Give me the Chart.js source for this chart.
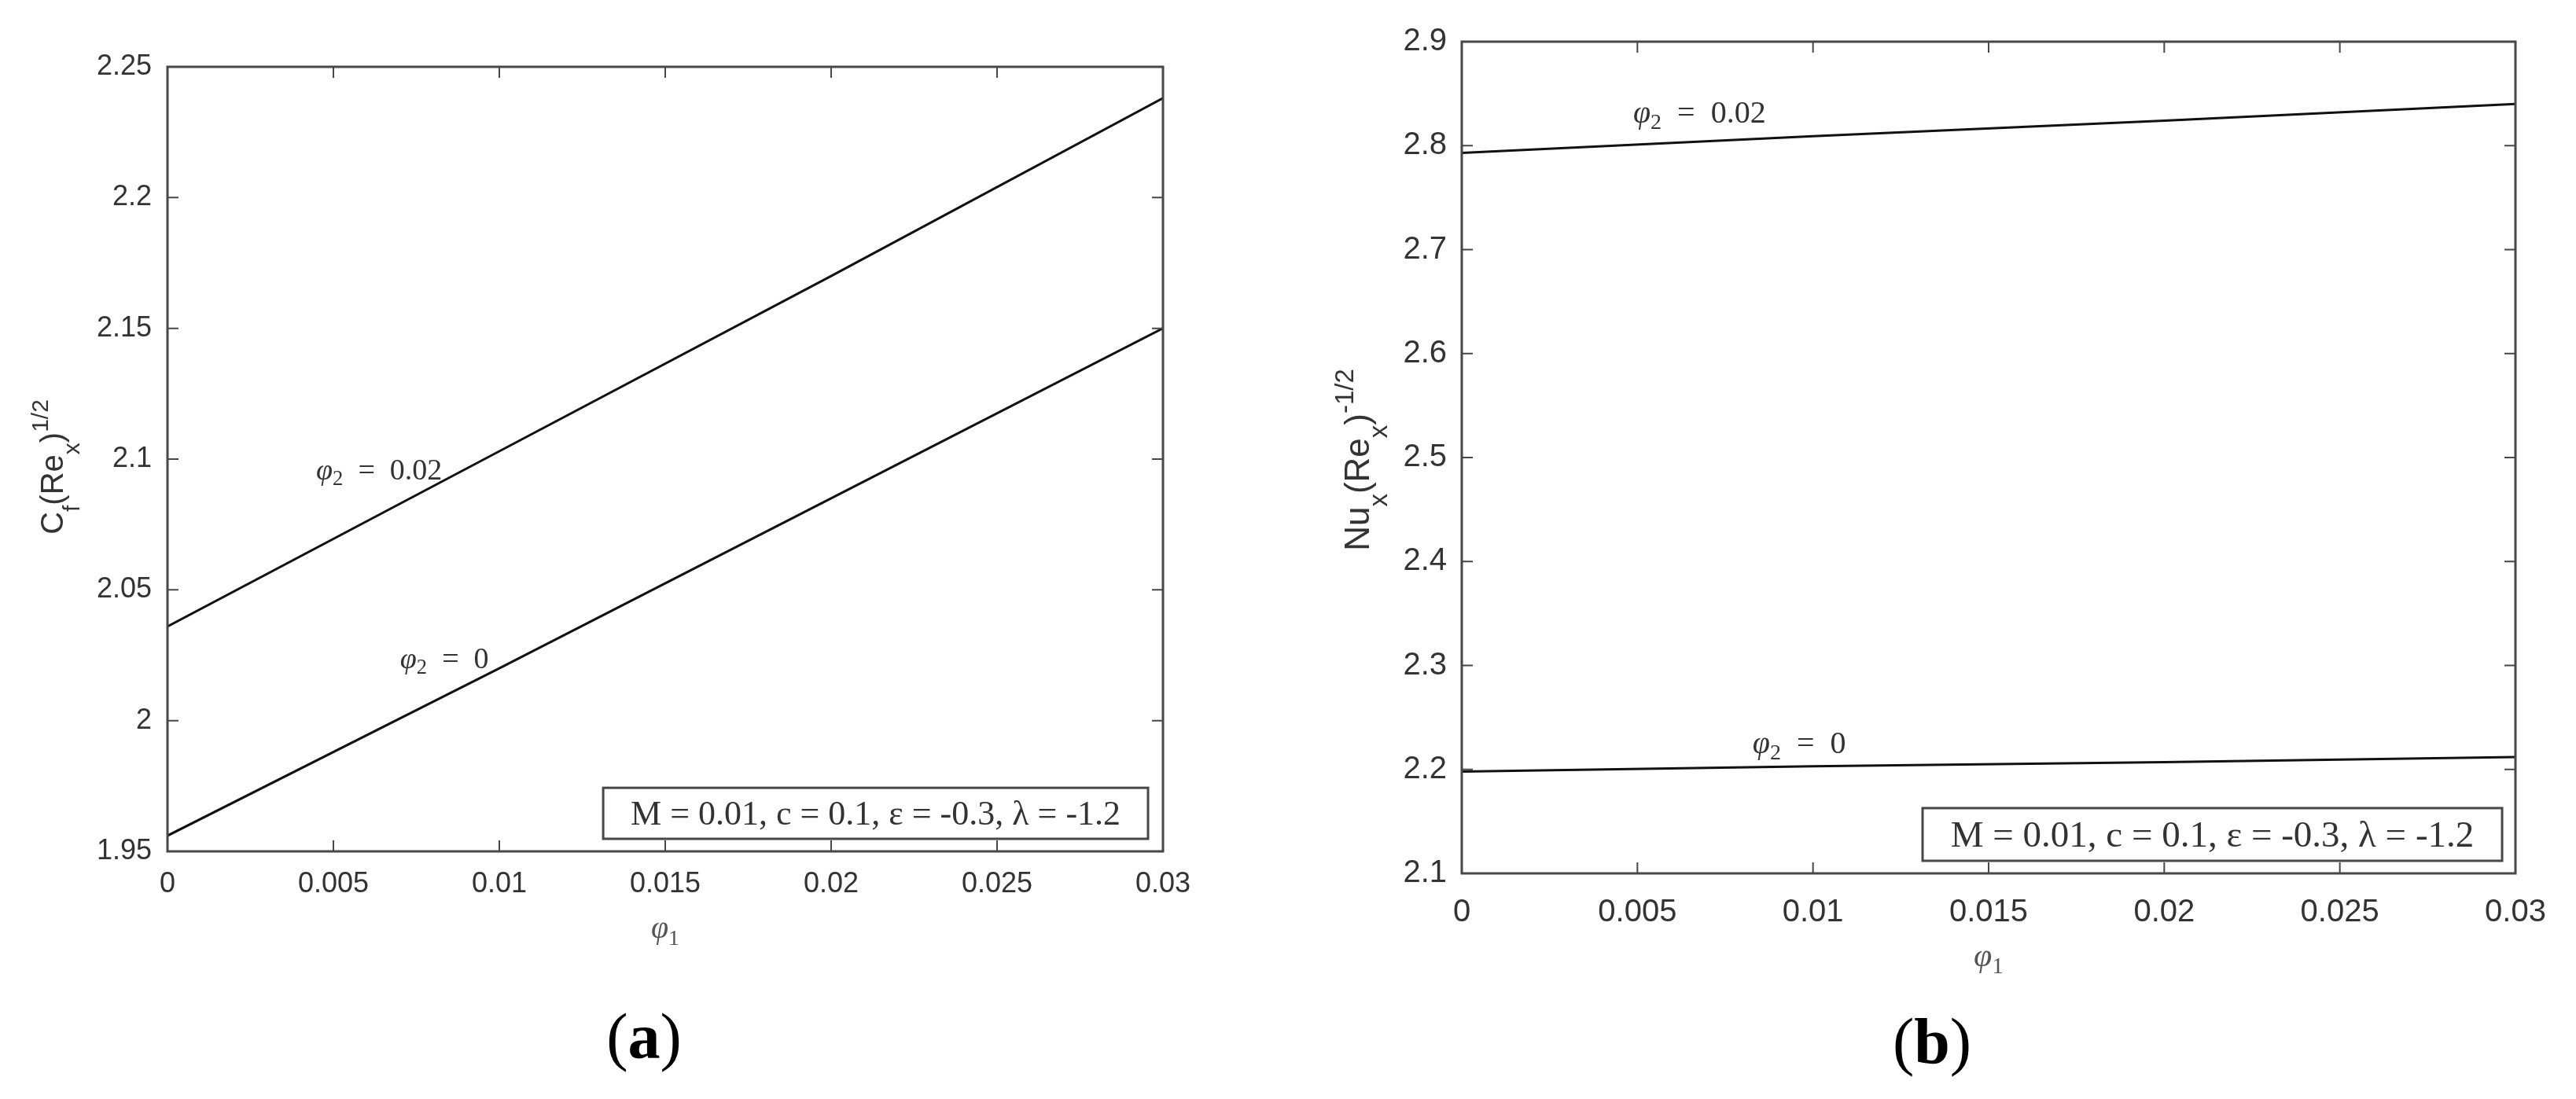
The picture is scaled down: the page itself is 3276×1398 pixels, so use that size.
<!DOCTYPE html>
<html>
<head>
<meta charset="utf-8">
<script src="https://cdn.jsdelivr.net/npm/chart.js@4.4.1/dist/chart.umd.min.js"></script>
<style>
  html, body { margin: 0; padding: 0; background: #fff; }
  #wrap { position: relative; width: 3276px; height: 1398px; }
  canvas { position: absolute; top: 0; }
  #chartA { left: 0; }
  #chartB { left: 1638px; }
</style>
</head>
<body>
<div id="wrap">
  <canvas id="chartA" width="1638" height="1398"></canvas>
  <canvas id="chartB" width="1638" height="1398"></canvas>
</div>
<script>
"use strict";

const phi1 = [0, 0.01, 0.02, 0.03];

// (a) skin friction C_f(Re_x)^{1/2}
const cfPhi2Zero = [1.956, 2.020, 2.085, 2.150];
const cfPhi2Two = [2.036, 2.103, 2.170, 2.238];

// (b) Nusselt number Nu_x(Re_x)^{-1/2}
const nuPhi2Zero = [2.198, 2.203, 2.207, 2.212];
const nuPhi2Two = [2.793, 2.809, 2.824, 2.840];

const xTicks = [0, 0.005, 0.01, 0.015, 0.02, 0.025, 0.03];
const xTickLabels = ["0", "0.005", "0.01", "0.015", "0.02", "0.025", "0.03"];
const cfTicks = [1.95, 2, 2.05, 2.1, 2.15, 2.2, 2.25];
const cfTickLabels = ["1.95", "2", "2.05", "2.1", "2.15", "2.2", "2.25"];
const nuTicks = [2.1, 2.2, 2.3, 2.4, 2.5, 2.6, 2.7, 2.8, 2.9];
const nuTickLabels = ["2.1", "2.2", "2.3", "2.4", "2.5", "2.6", "2.7", "2.8", "2.9"];

const curveNames = ["0", "0.02"];
const paramText = "M = 0.01, c = 0.1, \u03b5 = -0.3, \u03bb = -1.2";

const SANS = '"Liberation Sans", Arial, sans-serif';
const SERIF = '"Liberation Serif", "Times New Roman", serif';
const AXIS = "#474747";
const TEXT = "#333";
const TICK = 14;

const pts = (ys) => phi1.map((x, i) => ({ x, y: ys[i] }));

// draws a run of [text, size, shift, style] pieces, left to right from x0
function drawRun(ctx, pieces, x0, y0) {
  let x = x0;
  pieces.forEach(([t, size, shift, style]) => {
    ctx.font = `${style || ""} ${size}px ${style && style.includes("S") ? SANS : SERIF}`.replace("S", "");
    ctx.fillText(t, x, y0 + shift);
    x += ctx.measureText(t).width;
  });
  return x - x0;
}
function runWidth(ctx, pieces) {
  let w = 0;
  pieces.forEach(([t, size, shift, style]) => {
    ctx.font = `${style || ""} ${size}px ${style && style.includes("S") ? SANS : SERIF}`.replace("S", "");
    w += ctx.measureText(t).width;
  });
  return w;
}

const decor = {
  id: "decor",
  afterDatasetsDraw(chart, args, o) {
    const { ctx, chartArea: a, scales: { x, y } } = chart;
    ctx.save();

    // inward ticks on all four sides
    ctx.strokeStyle = AXIS;
    ctx.lineWidth = 2;
    ctx.beginPath();
    x.ticks.forEach((t) => {
      const px = x.getPixelForValue(t.value);
      ctx.moveTo(px, a.bottom); ctx.lineTo(px, a.bottom - TICK);
      ctx.moveTo(px, a.top); ctx.lineTo(px, a.top + TICK);
    });
    y.ticks.forEach((t) => {
      const py = y.getPixelForValue(t.value);
      ctx.moveTo(a.left, py); ctx.lineTo(a.left + TICK, py);
      ctx.moveTo(a.right, py); ctx.lineTo(a.right - TICK, py);
    });
    ctx.stroke();

    // frame
    ctx.lineWidth = 3;
    ctx.strokeRect(a.left, a.top, a.right - a.left, a.bottom - a.top);

    // curve labels  φ2 = ...
    ctx.fillStyle = TEXT;
    ctx.textBaseline = "alphabetic";
    ctx.textAlign = "left";
    const s = o.labelSize;
    o.labels.forEach((l, i) => {
      const px = x.getPixelForValue(l.x);
      const py = y.getPixelForValue(l.y) + s * 0.33;
      drawRun(ctx, [
        ["\u03c6", s, 0, "italic"],
        ["2", s * 0.7, s * 0.2, ""],
        ["  =  ", s, 0, ""],
        [curveNames[i], s, 0, ""],
      ], px, py);
    });

    // parameter box
    const bx0 = x.getPixelForValue(o.box.x0), bx1 = x.getPixelForValue(o.box.x1);
    const by0 = y.getPixelForValue(o.box.y1), by1 = y.getPixelForValue(o.box.y0);
    ctx.fillStyle = "#fff";
    ctx.fillRect(bx0, by0, bx1 - bx0, by1 - by0);
    ctx.strokeStyle = AXIS;
    ctx.lineWidth = 3;
    ctx.strokeRect(bx0, by0, bx1 - bx0, by1 - by0);
    ctx.fillStyle = TEXT;
    ctx.font = `${o.box.size}px ${SERIF}`;
    ctx.textAlign = "center";
    ctx.fillText(paramText, (bx0 + bx1) / 2, (by0 + by1) / 2 + o.box.size * 0.33);

    // x title  φ1
    ctx.textAlign = "left";
    ctx.fillStyle = "#555";
    const xt = [["\u03c6", o.xTitleSize, 0, "italic"], ["1", o.xTitleSize * 0.7, o.xTitleSize * 0.22, ""]];
    const cx = (a.left + a.right) / 2;
    drawRun(ctx, xt, cx - runWidth(ctx, xt) / 2, a.bottom + o.xTitleOffset);

    // y title, rotated
    ctx.fillStyle = TEXT;
    const yl = o.yTitle;
    ctx.translate(yl.base, (a.top + a.bottom) / 2 + yl.dy);
    ctx.rotate(-Math.PI / 2);
    const yp = yl.pieces.map(([t, kind]) => [
      t,
      kind === "m" ? yl.size : yl.size * 0.75,
      kind === "m" ? 0 : kind === "b" ? yl.sub : yl.sup,
      "S",
    ]);
    drawRun(ctx, yp, -runWidth(ctx, yp) / 2, 0);
    ctx.setTransform(1, 0, 0, 1, 0, 0);

    // panel label (a) / (b)
    ctx.fillStyle = "#000";
    const pl = [["(", o.panelSize, 0, ""], [o.panel, o.panelSize, 0, "bold"], [")", o.panelSize, 0, ""]];
    drawRun(ctx, pl, chart.width / 2 - runWidth(ctx, pl) / 2, o.panelBase);

    ctx.restore();
  },
};

function makeChart(id, c) {
  return new Chart(document.getElementById(id), {
    type: "line",
    data: {
      datasets: [
        { data: pts(c.low), borderColor: "#111", borderWidth: 3, pointRadius: 0, tension: 0, fill: false },
        { data: pts(c.high), borderColor: "#111", borderWidth: 3, pointRadius: 0, tension: 0, fill: false },
      ],
    },
    options: {
      responsive: false,
      animation: false,
      devicePixelRatio: 1,
      layout: { padding: c.pad },
      plugins: {
        legend: { display: false },
        tooltip: { enabled: false },
        decor: c.decor,
      },
      scales: {
        x: {
          type: "linear",
          min: 0,
          max: 0.03,
          grid: { display: false, drawTicks: false },
          border: { display: false },
          afterBuildTicks: (s) => { s.ticks = xTicks.map((v) => ({ value: v })); },
          afterFit: (s) => { s.height = c.xHeight; },
          ticks: {
            autoSkip: false,
            maxRotation: 0,
            padding: c.xPad,
            color: TEXT,
            font: { family: SANS, size: c.tickSize },
            callback: (v, i) => xTickLabels[i],
          },
        },
        y: {
          type: "linear",
          min: c.yTicks[0],
          max: c.yTicks[c.yTicks.length - 1],
          grid: { display: false, drawTicks: false },
          border: { display: false },
          afterBuildTicks: (s) => { s.ticks = c.yTicks.map((v) => ({ value: v })); },
          afterFit: (s) => { s.width = c.yWidth; },
          ticks: {
            autoSkip: false,
            padding: c.yPad,
            color: TEXT,
            font: { family: SANS, size: c.tickSize },
            callback: (v, i) => c.yLabels[i],
          },
        },
      },
    },
    plugins: [decor],
  });
}

makeChart("chartA", {
  low: cfPhi2Zero,
  high: cfPhi2Two,
  yTicks: cfTicks,
  yLabels: cfTickLabels,
  pad: { left: 0, top: 85, right: 159, bottom: 0 },
  yWidth: 213,
  xHeight: 315,
  tickSize: 36,
  xPad: 20,
  yPad: 20,
  decor: {
    labelSize: 38,
    labels: [{ x: 0.00701, y: 2.0239 }, { x: 0.00448, y: 2.0961 }],
    box: { x0: 0.01313, x1: 0.02955, y0: 1.9548, y1: 1.9743, size: 44 },
    xTitleSize: 40,
    xTitleOffset: 110,
    yTitle: {
      pieces: [["C", "m"], ["f", "b"], ["(Re", "m"], ["x", "b"], [")", "m"], ["1/2", "p"]],
      size: 40, base: 80, dy: 10, sub: 21, sup: -19,
    },
    panel: "a",
    panelSize: 82,
    panelBase: 1346,
  },
});

makeChart("chartB", {
  low: nuPhi2Zero,
  high: nuPhi2Two,
  yTicks: nuTicks,
  yLabels: nuTickLabels,
  pad: { left: 0, top: 53, right: 77, bottom: 0 },
  yWidth: 221,
  xHeight: 287,
  tickSize: 40,
  xPad: 26,
  yPad: 19,
  decor: {
    labelSize: 40,
    labels: [{ x: 0.00828, y: 2.2255 }, { x: 0.00488, y: 2.832 }],
    box: { x0: 0.01312, x1: 0.02962, y0: 2.1121, y1: 2.1628, size: 47 },
    xTitleSize: 42,
    xTitleOffset: 118,
    yTitle: {
      pieces: [["Nu", "m"], ["x", "b"], ["(Re", "m"], ["x", "b"], [")", "m"], ["-1/2", "p"]],
      size: 44, base: 103, dy: 3, sub: 23, sup: -20,
    },
    panel: "b",
    panelSize: 82,
    panelBase: 1352,
  },
});
</script>
</body>
</html>
